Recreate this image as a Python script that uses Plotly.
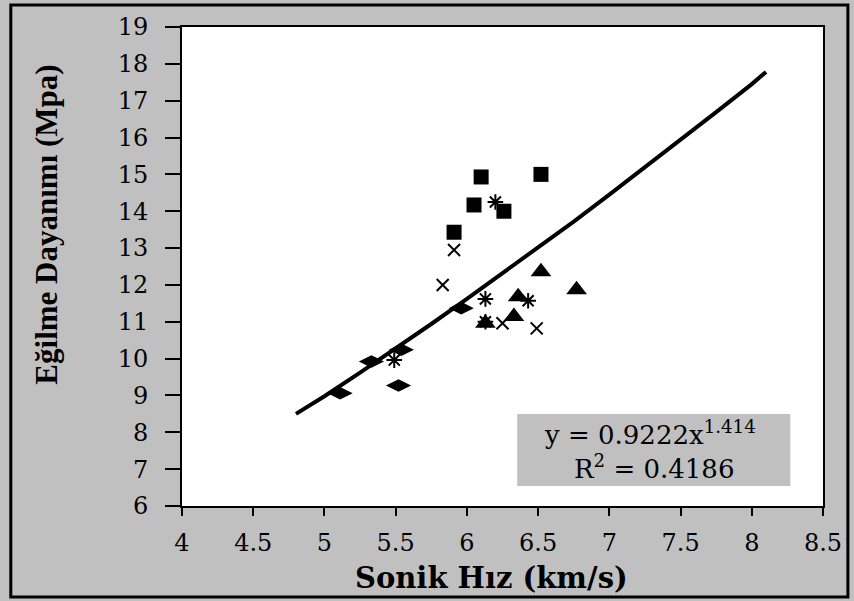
import plotly.graph_objects as go

# Data
sq_x = [5.91, 6.10, 6.05, 6.26, 6.52]
sq_y = [13.43, 14.93, 14.17, 14.00, 15.00]

dia_x = [5.11, 5.33, 5.54, 5.52, 5.96]
dia_y = [9.06, 9.92, 10.24, 9.27, 11.37]

tri_x = [6.52, 6.13, 6.36, 6.33, 6.77]
tri_y = [12.36, 10.96, 11.68, 11.14, 11.87]

x_x = [5.91, 5.83, 6.49, 6.25]
x_y = [12.95, 12.00, 10.82, 10.96]

ast_x = [5.49, 6.13, 6.20, 6.43, 6.13]
ast_y = [9.96, 11.62, 14.25, 11.57, 11.00]

trend_x = [4.8, 5.0, 5.25, 5.5, 5.75, 6.0, 6.25, 6.5, 6.75, 7.0, 7.25, 7.5, 7.75, 8.0, 8.1]
trend_y = [8.50, 8.98, 9.62, 10.27, 10.94, 11.62, 12.31, 13.01, 13.72, 14.45, 15.19, 15.93, 16.69, 17.45, 17.78]

x_ticks = [4, 4.5, 5, 5.5, 6, 6.5, 7, 7.5, 8, 8.5]
y_ticks = list(range(6, 20))

x_title = "Sonik Hız (km/s)"
y_title = "Eğilme Dayanımı (Mpa)"
eq_line1 = "y = 0.9222x<sup>1.414</sup>"
eq_line2 = "R<sup>2</sup> = 0.4186"

fig = go.Figure()
fig.add_trace(go.Scatter(x=trend_x, y=trend_y, mode="lines",
                         line=dict(color="black", width=4), showlegend=False))
fig.add_trace(go.Scatter(x=sq_x, y=sq_y, mode="markers",
                         marker=dict(symbol="square", size=15, color="black"), showlegend=False))
fig.add_trace(go.Scatter(x=dia_x, y=dia_y, mode="markers",
                         marker=dict(symbol="diamond-wide", size=18, color="black"), showlegend=False))
fig.add_trace(go.Scatter(x=tri_x, y=tri_y, mode="markers",
                         marker=dict(symbol="triangle-up", size=18, color="black"), showlegend=False))
fig.add_trace(go.Scatter(x=x_x, y=x_y, mode="markers",
                         marker=dict(symbol="x-thin-open", size=12, color="black",
                                     line=dict(width=2, color="black")), showlegend=False))
fig.add_trace(go.Scatter(x=ast_x, y=ast_y, mode="markers",
                         marker=dict(symbol="asterisk-open", size=13, color="black",
                                     line=dict(width=2, color="black")), showlegend=False))

tick_font = dict(family="DejaVu Serif", size=24, color="black")

fig.update_layout(
    width=854, height=601,
    margin=dict(l=182, r=28, t=27, b=95),
    paper_bgcolor="#c0c0c0",
    plot_bgcolor="white",
    xaxis=dict(range=[4, 8.5], tickvals=x_ticks, ticktext=[f"{v:g}" for v in x_ticks],
               showgrid=False, zeroline=False, showline=True, linecolor="black",
               linewidth=2, mirror=True, ticks="outside", ticklen=8, tickwidth=2,
               tickcolor="black", tickfont=tick_font, ticklabelstandoff=6),
    yaxis=dict(range=[6, 19], tickvals=y_ticks, showgrid=False, zeroline=False,
               showline=True, linecolor="black", linewidth=2, mirror=True,
               ticks="outside", ticklen=15, tickwidth=2, tickcolor="black",
               tickfont=tick_font, ticklabelstandoff=12),
    shapes=[
        dict(type="rect", xref="paper", yref="paper", x0=0.523, x1=0.949, y0=0.042, y1=0.192,
             fillcolor="#c0c0c0", line=dict(width=0), layer="above"),
        dict(type="rect", xref="paper", yref="paper",
             x0=(10 - 182) / 644, x1=(851 - 182) / 644,
             y0=(506 - 597) / 479, y1=(506 - 5) / 479,
             line=dict(color="black", width=3), fillcolor="rgba(0,0,0,0)", layer="below"),
    ],
    annotations=[
        dict(text=eq_line1, xref="paper", yref="paper", x=0.730, y=0.152, showarrow=False,
             xanchor="center", yanchor="middle",
             font=dict(family="DejaVu Serif", size=26, color="black")),
        dict(text=eq_line2, xref="paper", yref="paper", x=0.737, y=0.081, showarrow=False,
             xanchor="center", yanchor="middle",
             font=dict(family="DejaVu Serif", size=26, color="black")),
        dict(text=f"<b>{x_title}</b>", xref="paper", yref="paper", x=(493 - 182) / 644,
             y=(506 - 578) / 479, showarrow=False, xanchor="center", yanchor="middle",
             font=dict(family="DejaVu Serif", size=29, color="black")),
        dict(text=f"<b>{y_title}</b>", xref="paper", yref="paper", x=(45 - 182) / 644,
             y=(506 - 225) / 479, showarrow=False, xanchor="center", yanchor="middle",
             textangle=-90,
             font=dict(family="Liberation Serif", size=31, color="black")),
    ],
)

fig.write_html("out.html", config={"displayModeBar": False},
               post_script="document.body.style.margin='0';document.body.style.overflow='hidden';")
